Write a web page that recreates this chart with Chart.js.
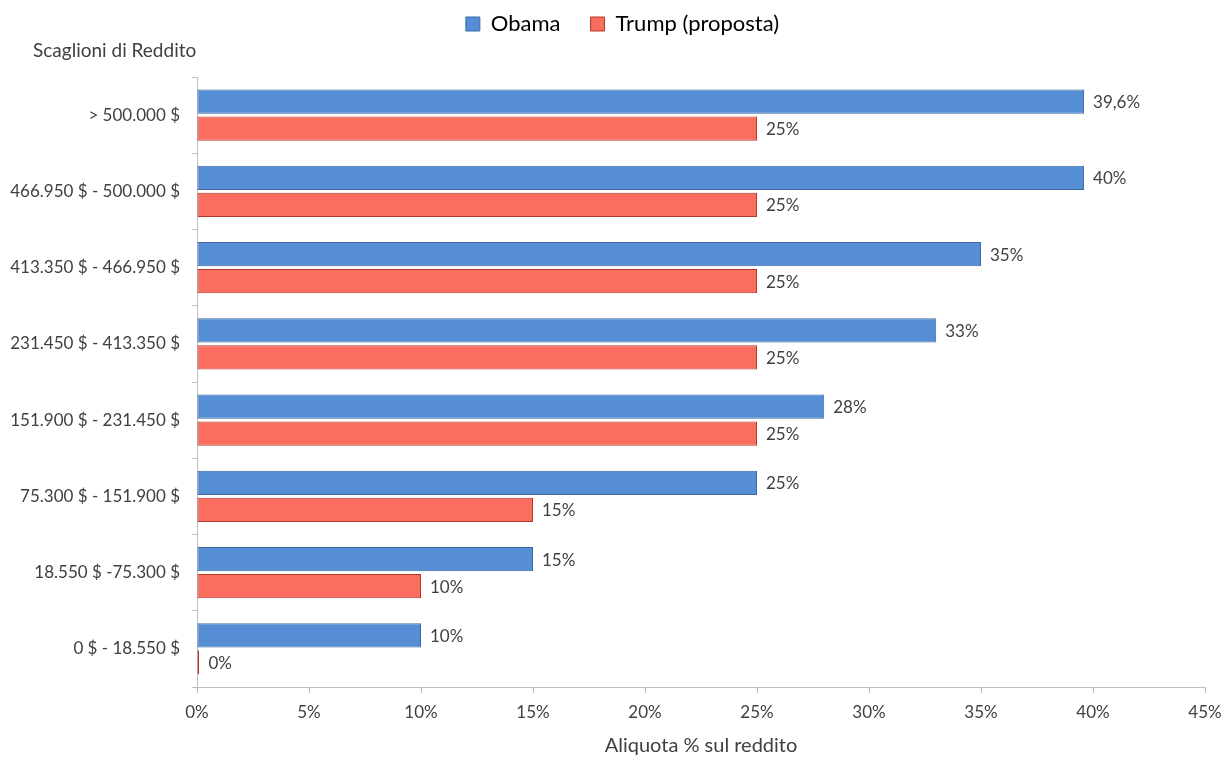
<!DOCTYPE html>
<html>
<head>
<meta charset="utf-8">
<script src="https://cdn.jsdelivr.net/npm/chart.js@4.4.1/dist/chart.umd.min.js"></script>
<style>
html,body{margin:0;padding:0;background:#fff;}
#wrap{width:1224px;height:758px;position:relative;}
</style>
</head>
<body>
<div id="wrap"><canvas id="c" width="1224" height="758"></canvas></div>
<script>
const categories = ["> 500.000 $", "466.950 $ - 500.000 $", "413.350 $ - 466.950 $", "231.450 $ - 413.350 $", "151.900 $ - 231.450 $", "75.300 $ - 151.900 $", "18.550 $ -75.300 $", "0 $ - 18.550 $"];
const obamaValues = [39.6, 39.6, 35, 33, 28, 25, 15, 10];
const obamaLabels = ["39,6%", "40%", "35%", "33%", "28%", "25%", "15%", "10%"];
const trumpValues = [25, 25, 25, 25, 25, 15, 10, 0];
const trumpLabels = ["25%", "25%", "25%", "25%", "25%", "15%", "10%", "0%"];
const seriesNames = ["Obama", "Trump (proposta)"];
const xTicks = [0, 5, 10, 15, 20, 25, 30, 35, 40, 45];
const yTitle = "Scaglioni di Reddito";
const xTitle = "Aliquota % sul reddito";

const FONT = "Lato, 'Open Sans', sans-serif";
const TXT = "#404040";
const pointLabels = [obamaLabels, trumpLabels];

const labelPlugin = {
  id: 'barLabels',
  beforeLayout(chart){
    const lg = chart.legend;
    if (lg && !lg._extraPatched){
      const f = lg.fit;
      lg.fit = function(){ f.call(this); this.height += 32; };
      lg._extraPatched = true;
    }
  },
  afterLayout(chart){
    const lg = chart.legend;
    if (lg){ lg.left += 20; lg.right += 20; }
  },
  afterDatasetsDraw(chart){
    const ctx = chart.ctx;
    ctx.save();
    ctx.font = "17px " + FONT;
    ctx.fillStyle = TXT;
    ctx.textAlign = 'left';
    ctx.textBaseline = 'middle';
    chart.data.datasets.forEach((ds, di) => {
      const meta = chart.getDatasetMeta(di);
      meta.data.forEach((el, i) => {
        const x = Math.max(el.x, el.base + 2);
        ctx.fillText(pointLabels[di][i], x + 9, el.y + 1);
      });
    });
    ctx.font = "19px " + FONT;
    ctx.fillText(yTitle, 33, chart.chartArea.top - 26);
    ctx.restore();
  }
};

new Chart(document.getElementById('c'), {
  type: 'bar',
  data: {
    labels: categories,
    datasets: [
      { label: seriesNames[0], data: obamaValues, backgroundColor: '#558ED5', borderColor: '#3D6AA3', borderWidth: 1, borderSkipped: false },
      { label: seriesNames[1], data: trumpValues, backgroundColor: '#FA6E5F', borderColor: '#B4372C', borderWidth: 1, borderSkipped: false, minBarLength: 2 }
    ]
  },
  options: {
    indexAxis: 'y',
    responsive: false,
    animation: false,
    devicePixelRatio: 1,
    layout: { padding: { top: -17, right: 19, left: 0, bottom: 0 } },
    datasets: { bar: { categoryPercentage: 0.71, barPercentage: 0.9 } },
    plugins: {
      legend: {
        position: 'top',
        labels: { font: { size: 22, family: FONT }, color: '#000', boxWidth: 14, boxHeight: 14, padding: 30 }
      },
      title: { display: false },
      tooltip: { enabled: false }
    },
    scales: {
      x: {
        min: 0, max: 45,
        afterBuildTicks(scale){ scale.ticks = xTicks.map(v => ({ value: v })); },
        ticks: { callback: v => v + '%', font: { size: 17, family: FONT }, color: TXT, padding: 9 },
        grid: { drawOnChartArea: false, drawTicks: true, tickLength: 6, color: '#BFBFBF' },
        border: { color: '#BFBFBF', width: 1 },
        title: { display: true, text: xTitle, font: { size: 20, family: FONT }, color: TXT, padding: { top: 11, bottom: 0 } },
        afterFit(scale){ scale.height = 71; scale.paddingRight = 0; scale.paddingLeft = 0; }
      },
      y: {
        ticks: { font: { size: 17, family: FONT }, color: TXT, padding: 12 },
        grid: { drawOnChartArea: false, drawTicks: true, tickLength: 5, color: '#BFBFBF', offset: true },
        border: { color: '#BFBFBF', width: 1 },
        afterFit(scale){ scale.width = 197; }
      }
    }
  },
  plugins: [labelPlugin]
});
</script>
</body>
</html>
